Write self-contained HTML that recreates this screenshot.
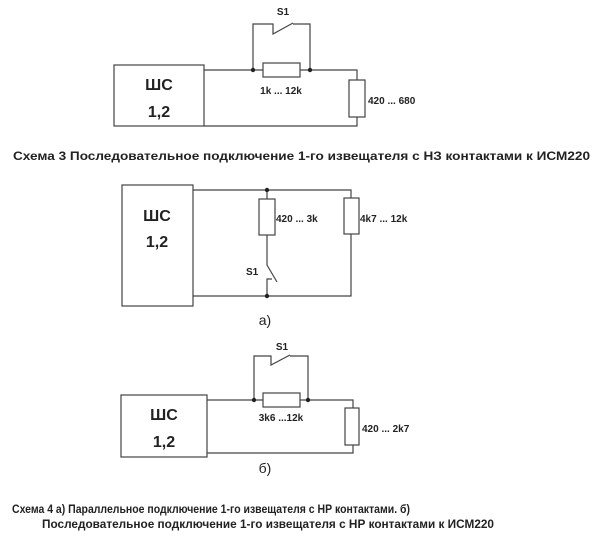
<!DOCTYPE html><html><head><meta charset="utf-8"><style>body{margin:0;background:#fff}svg{display:block}</style></head><body>
<svg width="600" height="552" xmlns="http://www.w3.org/2000/svg" font-family="Liberation Sans, sans-serif" font-weight="bold" fill="#222">
<g stroke="#444" stroke-width="1.2" fill="none">
<!-- D1 -->
<rect x="114" y="65" width="90" height="61"/>
<path d="M204 70H263M300 70H357V80M357 117V126H204"/>
<rect x="263" y="63" width="37" height="14"/>
<rect x="349" y="80" width="16" height="37"/>
<path d="M253 70V24H273V34L293 23M293 24H310V70"/>
<!-- D2 -->
<rect x="122" y="185" width="71" height="121"/>
<path d="M193 190H351V198M351 234V296H193"/>
<rect x="259" y="199" width="16" height="36"/>
<rect x="344" y="198" width="15" height="36"/>
<path d="M267 190V199M267 235V265L277 282M267 296V279H272"/>
<!-- D3 -->
<rect x="121" y="395" width="86" height="62"/>
<path d="M207 400H263M300 400H353V408M353 445V453H207"/>
<rect x="263" y="393" width="37" height="14"/>
<rect x="345" y="408" width="14" height="37"/>
<path d="M254 400V356H271V365L290 355M290 356H308V400"/>
</g>
<g fill="#222">
<circle cx="253" cy="70" r="2.2"/><circle cx="310" cy="70" r="2.2"/>
<circle cx="267" cy="190" r="2.2"/><circle cx="267" cy="296" r="2.2"/>
<circle cx="254" cy="400" r="2.2"/><circle cx="308" cy="400" r="2.2"/>
</g>
<g font-size="16" text-anchor="middle">
<text x="159" y="90">ШС</text><text x="159" y="117">1,2</text>
<text x="157" y="221">ШС</text><text x="157" y="247">1,2</text>
<text x="164" y="420">ШС</text><text x="164" y="447">1,2</text>
</g>
<g font-size="10">
<text x="283" y="15" text-anchor="middle">S1</text>
<text x="281" y="94" text-anchor="middle">1k ... 12k</text>
<text x="368" y="104">420 ... 680</text>
<text x="276" y="222">420 ... 3k</text>
<text x="360" y="222">4k7 ... 12k</text>
<text x="246" y="275">S1</text>
<text x="282" y="350" text-anchor="middle">S1</text>
<text x="281" y="421" text-anchor="middle">3k6 ...12k</text>
<text x="362" y="432">420 ... 2k7</text>
</g>
<text x="265" y="325" font-size="14" font-weight="normal" text-anchor="middle">а)</text>
<text x="265" y="473" font-size="14" font-weight="normal" text-anchor="middle">б)</text>
<g font-size="11.5">
<text x="13" y="160" textLength="577" lengthAdjust="spacingAndGlyphs">Схема 3 Последовательное подключение 1-го извещателя с НЗ контактами к ИСМ220</text>
<text x="12" y="513" textLength="398" lengthAdjust="spacingAndGlyphs">Схема 4 а) Параллельное подключение 1-го извещателя с НР контактами. б)</text>
<text x="42" y="528" textLength="452" lengthAdjust="spacingAndGlyphs">Последовательное подключение 1-го извещателя с НР контактами к ИСМ220</text>
</g>
</svg>
</body></html>
